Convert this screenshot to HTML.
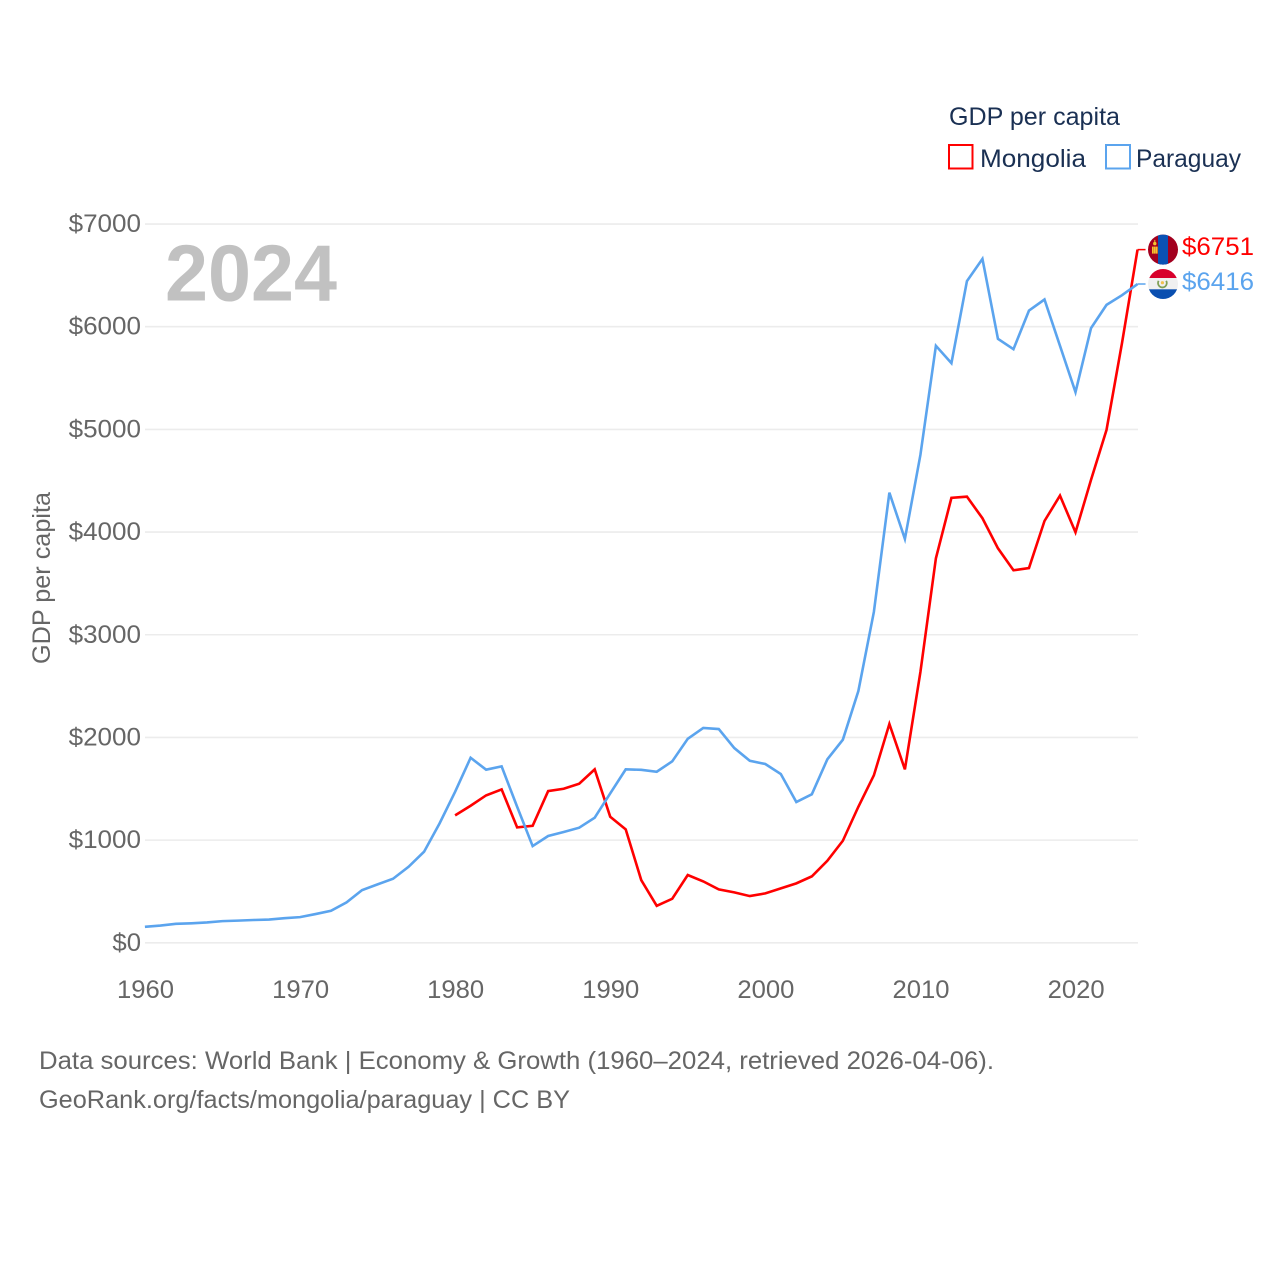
<!DOCTYPE html>
<html lang="en">
<head>
<meta charset="utf-8">
<title>GDP per capita: Mongolia and Paraguay</title>
<style>
html,body{margin:0;padding:0;background:#fff;width:1280px;height:1280px;overflow:hidden}
svg{display:block}
text{font-family:"Liberation Sans",sans-serif}
</style>
</head>
<body>
<svg id="chart" xmlns="http://www.w3.org/2000/svg" width="1280" height="1280" viewBox="0 0 1280 1280">
  <defs>
    <clipPath id="flag-clip-mn"><circle cx="0" cy="0" r="15"></circle></clipPath>
    <clipPath id="flag-clip-py"><circle cx="0" cy="0" r="15"></circle></clipPath>
  </defs>
  <rect x="0" y="0" width="1280" height="1280" fill="#ffffff"></rect>
  <g id="grid"></g>
  <g id="yticks"></g>
  <g id="xticks"></g>
  <text x="165" y="300.5" font-size="80" font-weight="700" fill="#c1c1c1" textLength="172" lengthAdjust="spacingAndGlyphs">2024</text>
  <text transform="translate(50 578) rotate(-90)" text-anchor="middle" font-size="25" fill="#666666" textLength="172" lengthAdjust="spacingAndGlyphs">GDP per capita</text>
  <g id="series"></g>
  <g id="end-marks"></g>
  <g>
    <text x="949" y="125" font-size="25" fill="#1a3053" textLength="171" lengthAdjust="spacingAndGlyphs">GDP per capita</text>
    <rect x="949" y="145" width="23.5" height="23.5" fill="#ffffff" stroke="#ff0000" stroke-width="2"></rect>
    <text x="980" y="167" font-size="25" fill="#1a3053" textLength="106" lengthAdjust="spacingAndGlyphs">Mongolia</text>
    <rect x="1106" y="145" width="24" height="23.5" fill="#ffffff" stroke="#5ba4ee" stroke-width="2"></rect>
    <text x="1136" y="167" font-size="25" fill="#1a3053" textLength="105" lengthAdjust="spacingAndGlyphs">Paraguay</text>
  </g>
  <text x="39" y="1069" font-size="25" fill="#666666" textLength="955" lengthAdjust="spacingAndGlyphs">Data sources: World Bank | Economy &amp; Growth (1960–2024, retrieved 2026-04-06).</text>
  <text x="39" y="1108" font-size="25" fill="#666666" textLength="531" lengthAdjust="spacingAndGlyphs">GeoRank.org/facts/mongolia/paraguay | CC BY</text>
</svg>
<script>
var firstYear = 1960;
var yTickValues = [0, 1000, 2000, 3000, 4000, 5000, 6000, 7000];
var xTickYears = [1960, 1970, 1980, 1990, 2000, 2010, 2020];
var paraguayValues = [156,168,185,190,198,211,216,222,226,240,250,280,312,393,513,569,624,740,887,1163,1471,1802,1686,1718,1325,942,1040,1079,1121,1218,1455,1689,1685,1666,1767,1987,2092,2082,1897,1773,1741,1644,1371,1446,1787,1978,2452,3222,4384,3933,4751,5814,5645,6444,6661,5882,5781,6157,6265,5814,5363,5986,6213,6307,6416];
var mongoliaValues = [null,null,null,null,null,null,null,null,null,null,null,null,null,null,null,null,null,null,null,null,1241,1335,1436,1494,1124,1140,1478,1500,1549,1689,1228,1105,611,360,429,660,598,520,491,455,481,530,579,647,799,994,1325,1631,2131,1689,2637,3745,4333,4345,4135,3842,3628,3650,4108,4355,3998,4508,4995,5843,6751];

var NS = 'http://www.w3.org/2000/svg';
var RED = '#ff0000';
var BLUE = '#5ba4ee';
function xScale(year) { return 144.9 + (year - 1960) * 15.51; }
function yScale(value) { return 942.8 - value * 0.10268; }
function make(tag, attrs, parent) {
  var el = document.createElementNS(NS, tag);
  for (var k in attrs) el.setAttribute(k, attrs[k]);
  parent.appendChild(el);
  return el;
}
var grid = document.getElementById('grid');
var yticks = document.getElementById('yticks');
var xticks = document.getElementById('xticks');
var series = document.getElementById('series');
var endMarks = document.getElementById('end-marks');

yTickValues.forEach(function (v) {
  var line = make('line', {x1: 145, x2: 1138, y1: yScale(v), y2: yScale(v), stroke: '#ececec', 'stroke-width': 1.6}, grid);
  
  
  var label = make('text', {x: 141, y: yScale(v) + 8, 'text-anchor': 'end', 'font-size': 25, fill: '#666666'}, yticks);
  
  
  label.textContent = '$' + v;
  label.setAttribute('textLength', String(v).length * 14.6 + 14);
  label.setAttribute('lengthAdjust', 'spacingAndGlyphs');
});
xTickYears.forEach(function (yr) {
  var label = make('text', {x: xScale(yr) + 0.6, y: 998, 'text-anchor': 'middle', 'font-size': 25, fill: '#666666', textLength: 57, lengthAdjust: 'spacingAndGlyphs'}, xticks);
  
  
  label.textContent = yr;
});
function linePoints(values) {
  var pts = [];
  values.forEach(function (v, i) {
    if (v !== null) pts.push(xScale(firstYear + i).toFixed(2) + ',' + yScale(v).toFixed(2));
  });
  return pts.join(' ');
}
var mnLine = make('polyline', {points: linePoints(mongoliaValues), fill: 'none', stroke: RED, 'stroke-width': 2.6, 'stroke-linejoin': 'miter'}, series);


var pyLine = make('polyline', {points: linePoints(paraguayValues), fill: 'none', stroke: BLUE, 'stroke-width': 2.6, 'stroke-linejoin': 'miter'}, series);



var lastMn = mongoliaValues[mongoliaValues.length - 1];
var lastPy = paraguayValues[paraguayValues.length - 1];
var lastX = xScale(firstYear + paraguayValues.length - 1);

var mnConn = make('line', {x1: lastX, x2: lastX + 8, y1: yScale(lastMn), y2: yScale(lastMn), stroke: RED, 'stroke-width': 1.5}, endMarks);


var pyConn = make('line', {x1: lastX, x2: lastX + 8, y1: yScale(lastPy), y2: yScale(lastPy), stroke: BLUE, 'stroke-width': 1.5}, endMarks);



var mnFlag = make('g', {transform: 'translate(1163 ' + yScale(lastMn) + ')', 'clip-path': 'url(#flag-clip-mn)'}, endMarks);


make('rect', {x: -15, y: -16, width: 30, height: 32, fill: '#a2001f'}, mnFlag);
make('rect', {x: -5, y: -16, width: 10, height: 32, fill: '#0a52b5'}, mnFlag);
make('rect', {x: -11, y: -3, width: 1.6, height: 7, fill: '#f4c430'}, mnFlag);
make('rect', {x: -7, y: -3, width: 1.6, height: 7, fill: '#f4c430'}, mnFlag);
make('rect', {x: -9.2, y: -3, width: 2, height: 7, fill: '#f4c430'}, mnFlag);
make('circle', {cx: -8.2, cy: -6, r: 1.7, fill: '#f4c430'}, mnFlag);
make('rect', {x: -8.7, y: -9.7, width: 1, height: 2.5, fill: '#f4c430'}, mnFlag);

var pyFlag = make('g', {transform: 'translate(1163 ' + yScale(lastPy) + ')', 'clip-path': 'url(#flag-clip-py)'}, endMarks);


make('rect', {x: -15, y: -16, width: 30, height: 32, fill: '#f0f0f0'}, pyFlag);
make('rect', {x: -15, y: -16, width: 30, height: 10, fill: '#d8002c'}, pyFlag);
make('rect', {x: -15, y: 5.3, width: 30, height: 11, fill: '#0a4fb0'}, pyFlag);
make('path', {d: 'M-4.4 -3.2 A4.4 4.4 0 1 0 3.2 -3.2', fill: 'none', stroke: '#7f9f55', 'stroke-width': 1.8}, pyFlag);
make('circle', {cx: -0.6, cy: -1.3, r: 1.6, fill: '#f2c14e'}, pyFlag);

var mnLabel = make('text', {x: 1182, y: yScale(lastMn) + 5.5 , 'font-size': 25, fill: RED, textLength: 72, lengthAdjust: 'spacingAndGlyphs'}, endMarks);


mnLabel.textContent = '$' + lastMn;
var pyLabel = make('text', {x: 1182, y: yScale(lastPy) + 6, 'font-size': 25, fill: BLUE, textLength: 72, lengthAdjust: 'spacingAndGlyphs'}, endMarks);


pyLabel.textContent = '$' + lastPy;
</script>
</body>
</html>
